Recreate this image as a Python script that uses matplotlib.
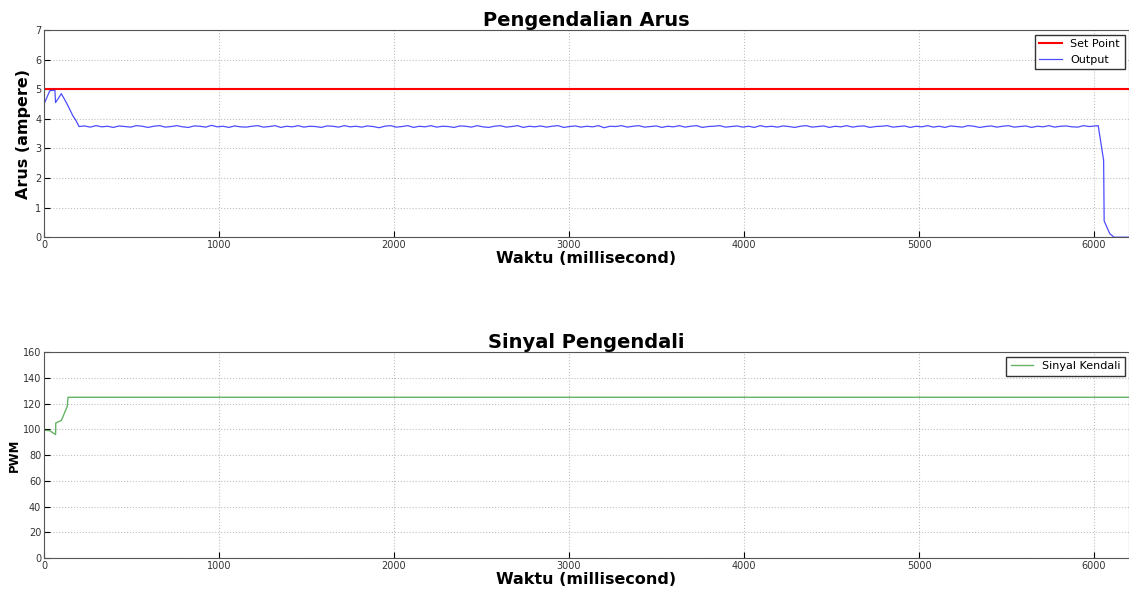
import numpy as np
import matplotlib
matplotlib.use("Agg")
import matplotlib.pyplot as plt

# arus - fase awal
waktu_awal = [0, 33, 62, 66, 99, 132, 165, 182, 200]
arus_awal = [4.50, 4.95, 4.97, 4.55, 4.85, 4.50, 4.10, 3.95, 3.74]

# arus - kondisi tunak
arus_tengah = [
    3.76, 3.72, 3.77, 3.73, 3.75, 3.71, 3.76, 3.74, 3.72, 3.77, 3.75, 3.71, 3.75, 3.77, 3.72, 3.74,
    3.77, 3.73, 3.71, 3.76, 3.75, 3.72, 3.78, 3.73, 3.75, 3.71, 3.76, 3.73, 3.72, 3.75, 3.77, 3.72,
    3.74, 3.77, 3.71, 3.75, 3.73, 3.77, 3.72, 3.75, 3.74, 3.71, 3.76, 3.75, 3.72, 3.77, 3.73, 3.75,
    3.72, 3.76, 3.74, 3.70, 3.75, 3.77, 3.72, 3.74, 3.77, 3.71, 3.75, 3.73, 3.77, 3.72, 3.75, 3.74,
    3.71, 3.76, 3.75, 3.72, 3.77, 3.73, 3.71, 3.75, 3.77, 3.72, 3.74, 3.77, 3.71, 3.75, 3.73, 3.76,
    3.72, 3.75, 3.77, 3.71, 3.74, 3.76, 3.72, 3.75, 3.73, 3.77, 3.70, 3.75, 3.74, 3.77, 3.72, 3.75,
    3.77, 3.72, 3.74, 3.76, 3.71, 3.75, 3.73, 3.77, 3.72, 3.75, 3.77, 3.71, 3.74, 3.75, 3.77, 3.72,
    3.74, 3.76, 3.72, 3.75, 3.71, 3.77, 3.73, 3.75, 3.72, 3.76, 3.74, 3.71, 3.75, 3.77, 3.72, 3.74,
    3.76, 3.71, 3.75, 3.73, 3.77, 3.72, 3.75, 3.76, 3.71, 3.74, 3.75, 3.77, 3.72, 3.74, 3.76, 3.71,
    3.75, 3.73, 3.77, 3.72, 3.75, 3.71, 3.76, 3.74, 3.72, 3.77, 3.75, 3.71, 3.74, 3.76, 3.72, 3.75,
    3.77, 3.72, 3.74, 3.76, 3.71, 3.75, 3.73, 3.77, 3.72, 3.75, 3.76, 3.73, 3.72, 3.77, 3.74, 3.76,
]
waktu_tengah = np.linspace(231, 6006, len(arus_tengah))

# arus - akhir
waktu_akhir = [6024, 6055, 6058, 6090, 6114, 6200]
arus_akhir = [3.77, 2.60, 0.55, 0.12, 0.0, 0.0]

waktu_sp = [0, 6200]
set_point = [5, 5]

# sinyal kendali
waktu_pwm = [0, 33, 66, 67, 99, 133, 137, 6200]
pwm = [99.5, 99, 96, 105, 107, 118, 125, 125]

waktu = np.concatenate([waktu_awal, waktu_tengah, waktu_akhir])
arus = np.concatenate([arus_awal, arus_tengah, arus_akhir])

plt.rcParams['font.family'] = 'DejaVu Sans'
fig = plt.figure(figsize=(11.29, 5.9), dpi=100)
ax1 = fig.add_axes([0.039, 0.598, 0.961, 0.351])
ax2 = fig.add_axes([0.039, 0.054, 0.961, 0.349])

ax1.plot(waktu_sp, set_point, color='#ff0000', lw=1.5, label='Set Point')
ax1.plot(waktu, arus, color='#0000ff', lw=0.9, alpha=0.7, label='Output')
ax1.set_xlim(0, 6200)
ax1.set_ylim(0, 7)
ax1.set_title('Pengendalian Arus', fontsize=14, fontweight='bold', pad=2)
ax1.set_xlabel('Waktu (millisecond)', fontsize=11.5, fontweight='bold', labelpad=1)
ax1.set_ylabel('Arus (ampere)', fontsize=11.5, fontweight='bold', labelpad=3)
ax1.legend(loc='upper right', fontsize=8, fancybox=False, edgecolor='#333333',
           framealpha=1, borderaxespad=0.4)

ax2.plot(waktu_pwm, pwm, color='green', lw=1.0, alpha=0.6, label='Sinyal Kendali')
ax2.set_xlim(0, 6200)
ax2.set_ylim(0, 160)
ax2.set_title('Sinyal Pengendali', fontsize=14, fontweight='bold', pad=2)
ax2.set_xlabel('Waktu (millisecond)', fontsize=11.5, fontweight='bold', labelpad=1)
ax2.set_ylabel('PWM', fontsize=8.5, fontweight='bold', labelpad=1)
ax2.legend(loc='upper right', fontsize=8, fancybox=False, edgecolor='#333333',
           framealpha=1, borderaxespad=0.4)

for ax in (ax1, ax2):
    ax.grid(True, color='#c0c0c0', linestyle=':', lw=0.8)
    ax.tick_params(labelsize=7, direction='in', length=4, pad=2, labelcolor='#333333')
    for s in ax.spines.values():
        s.set_color('#555555')

fig.savefig('out.png', dpi=100)
